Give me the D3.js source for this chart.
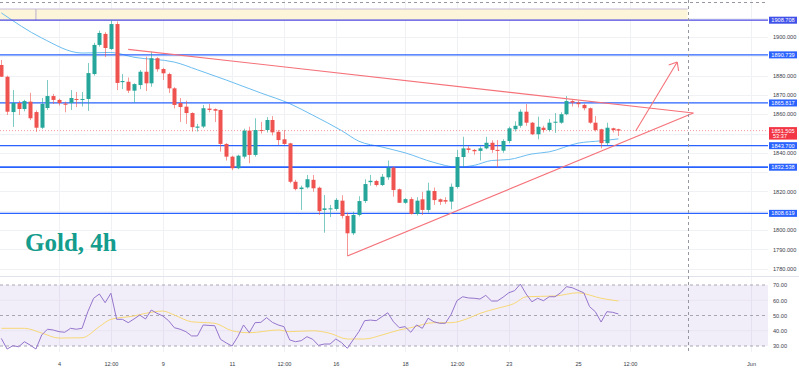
<!DOCTYPE html>
<html lang="en">
  <head>
    <meta charset="UTF-8" />
    <title>Gold, 4h</title>
    <style>
      html, body { margin: 0; padding: 0; background: #fff; }
      svg { display: block; font-family: "Liberation Sans", Arial, sans-serif; }
    </style>
  </head>
  <body>
    <svg width="799" height="369"></svg>

    <script src="https://d3js.org/d3.v7.min.js"></script>
    <script>
      // 4h candles, index 0 = May 4 00:00, 6 candles per trading day
      const firstIndex = -10;
      const opens = [
        1885.5, 1879.4, 1861.1, 1865.8, 1862.7, 1866.5, 1861.1, 1853.0, 1863.2, 1869.4,
        1867.4, 1865.5, 1865.8, 1867.9, 1867.4, 1867.9, 1880.8, 1895.9, 1901.6, 1893.8,
        1906.7, 1876.6, 1876.8, 1872.2, 1875.1, 1882.0, 1876.0, 1889.0, 1883.4, 1880.8,
        1873.4, 1865.8, 1863.9, 1860.6, 1853.0, 1853.6, 1862.9, 1862.6, 1862.2, 1844.6,
        1838.0, 1832.0, 1838.0, 1851.5, 1838.9, 1851.8, 1851.8, 1857.0, 1850.9, 1847.0,
        1844.9, 1825.0, 1821.2, 1822.1, 1826.0, 1821.9, 1810.4, 1810.7, 1810.9, 1815.2,
        1807.3, 1798.3, 1807.8, 1815.0, 1824.8, 1825.4, 1823.3, 1827.3, 1832.3, 1821.1,
        1814.1, 1816.0, 1808.3, 1815.9, 1810.4, 1820.2, 1815.9, 1815.5, 1814.7, 1822.3,
        1837.8, 1842.3, 1841.5, 1841.0, 1842.3, 1845.2, 1841.5, 1841.1, 1846.1, 1852.2,
        1854.0, 1861.3, 1855.6, 1849.6, 1853.0, 1851.8, 1855.6, 1855.6, 1860.0, 1866.8,
        1866.0, 1864.8, 1863.1, 1855.6, 1852.2, 1845.0, 1852.7, 1852.2
      ];
      const highs = [
        1888.1, 1880.0, 1872.5, 1867.0, 1867.5, 1871.1, 1862.0, 1868.4, 1877.7, 1870.5,
        1868.0, 1866.5, 1872.5, 1871.5, 1871.5, 1886.5, 1897.0, 1903.3, 1902.5, 1908.7,
        1908.0, 1880.8, 1879.0, 1876.0, 1882.9, 1889.8, 1892.4, 1889.5, 1884.0, 1881.5,
        1874.0, 1868.4, 1867.0, 1861.0, 1855.0, 1864.8, 1865.3, 1863.0, 1862.5, 1845.0,
        1838.5, 1839.0, 1852.5, 1853.5, 1857.9, 1856.0, 1858.5, 1859.0, 1851.8, 1851.8,
        1845.2, 1826.0, 1823.0, 1828.5, 1828.5, 1822.5, 1818.1, 1813.0, 1816.5, 1818.0,
        1809.0, 1809.5, 1817.5, 1826.3, 1828.5, 1826.0, 1829.0, 1836.0, 1833.0, 1821.5,
        1816.5, 1817.0, 1817.0, 1819.8, 1824.5, 1822.0, 1816.3, 1817.0, 1824.1, 1841.5,
        1848.3, 1843.5, 1842.0, 1843.3, 1848.3, 1846.5, 1846.6, 1847.0, 1853.5, 1856.3,
        1862.5, 1865.3, 1856.0, 1858.7, 1854.0, 1857.5, 1860.6, 1861.0, 1869.4, 1867.4,
        1867.0, 1865.5, 1863.5, 1859.0, 1852.5, 1855.6, 1853.0, 1852.5
      ];
      const lows = [
        1879.3, 1859.6, 1853.4, 1859.6, 1861.5, 1856.9, 1850.8, 1852.3, 1862.2, 1865.3,
        1864.5, 1861.0, 1862.2, 1863.7, 1864.0, 1861.7, 1880.0, 1895.0, 1889.6, 1893.3,
        1872.5, 1873.0, 1871.0, 1866.0, 1873.0, 1872.0, 1874.2, 1882.0, 1877.7, 1871.0,
        1863.0, 1856.0, 1855.0, 1851.0, 1851.0, 1852.8, 1861.0, 1856.0, 1840.6, 1836.0,
        1831.0, 1831.5, 1837.0, 1834.6, 1838.0, 1850.0, 1850.5, 1849.0, 1844.0, 1844.0,
        1824.2, 1820.5, 1810.4, 1821.5, 1819.8, 1807.8, 1798.6, 1806.7, 1810.0, 1806.0,
        1786.5, 1797.4, 1807.0, 1814.0, 1823.0, 1822.5, 1822.8, 1826.0, 1817.3, 1814.0,
        1813.6, 1808.0, 1807.5, 1807.8, 1809.0, 1813.0, 1813.0, 1813.5, 1810.7, 1821.5,
        1832.5, 1840.0, 1839.0, 1836.0, 1841.8, 1840.0, 1832.5, 1840.0, 1845.0, 1851.0,
        1853.0, 1854.0, 1849.2, 1847.0, 1850.5, 1851.0, 1850.3, 1855.0, 1859.5, 1864.0,
        1863.5, 1862.0, 1855.0, 1851.0, 1842.3, 1844.0, 1850.5, 1848.7
      ];
      const closes = [
        1879.4, 1861.3, 1865.8, 1862.7, 1866.8, 1857.9, 1853.0, 1865.3, 1869.4, 1867.4,
        1865.8, 1864.9, 1868.4, 1867.4, 1867.9, 1881.3, 1895.9, 1902.1, 1894.3, 1906.7,
        1876.2, 1877.2, 1872.2, 1875.6, 1882.0, 1876.0, 1889.0, 1883.3, 1881.2, 1873.4,
        1864.8, 1863.7, 1860.6, 1853.3, 1853.6, 1863.1, 1862.2, 1861.8, 1844.6, 1838.0,
        1832.0, 1838.5, 1851.5, 1838.9, 1851.8, 1851.3, 1857.0, 1850.6, 1846.6, 1844.6,
        1825.0, 1821.2, 1822.0, 1826.3, 1821.6, 1809.8, 1811.2, 1811.2, 1815.6, 1807.3,
        1798.3, 1807.8, 1815.0, 1823.8, 1825.5, 1823.3, 1827.6, 1832.3, 1820.7, 1814.1,
        1816.0, 1808.3, 1815.2, 1810.4, 1820.4, 1815.5, 1814.6, 1814.7, 1822.4, 1837.8,
        1842.3, 1841.5, 1840.8, 1842.3, 1845.2, 1841.5, 1841.0, 1846.1, 1852.7, 1854.0,
        1861.3, 1855.6, 1849.6, 1853.5, 1851.8, 1855.6, 1856.1, 1860.0, 1866.8, 1866.0,
        1865.2, 1863.1, 1855.6, 1851.8, 1845.0, 1853.0, 1851.8, 1851.5
      ];
      const rsi = [
        35, 28, 30.2, 29.5, 32.8, 30.6, 28, 37.2, 41, 40.5,
        39.4, 39, 41.6, 41, 41.6, 52.5, 61.3, 64.1, 58.4, 64.6,
        47.5, 47.5, 45.3, 47.7, 50.3, 47.7, 53.6, 51.4, 49.7, 46.6,
        42, 41, 39.4, 36.6, 36.6, 43.8, 43.5, 43.3, 34.4, 32,
        30, 36.1, 43.8, 38.7, 45.3, 45.5, 48.6, 45.5, 43.8, 42.7,
        34, 32.8, 33.5, 36.1, 34.4, 30.4, 31.3, 31.3, 34.6, 32.2,
        28.5, 34, 39.4, 46.6, 47, 46.6, 49.2, 51.8, 45.9, 42,
        42.7, 39, 43.8, 41.6, 48.2, 45.9, 44.9, 44.9, 50.8, 59.7,
        62.3, 61.5, 61.3, 60.8, 63.2, 59.5, 59.5, 62, 64.9, 66.3,
        70.6, 64.1, 59, 61.3, 59.7, 62.3, 62.3, 64.9, 68.9, 68.2,
        66.5, 64.9, 55.8, 52.5, 45.7, 52.5, 52.1, 51
      ];
      // [candle index, value]
      const rsiMa = [
        [-10, 41.6], [-6, 41.6], [-3, 38.5], [0, 35.2], [4, 35.4], [7, 42.7], [9, 47.5],
        [13, 49.7], [15, 51.4], [18, 52.9], [20, 50.3], [23, 45.9], [27, 44.9], [30, 40],
        [33, 38.7], [38, 40.5], [40, 39.4], [44, 40], [47, 38.3], [50, 34.6], [53, 34.6],
        [56, 37.2], [59, 40.5], [61, 42], [65, 45.3], [68, 45.3], [71, 48.2], [73, 51.4],
        [76, 54.7], [79, 58], [81, 62.3], [86, 62.8], [90, 64.9], [94, 61.3], [97, 59.5]
      ];
      const movingAvg = [
        [-10, 1912.5], [-3, 1899.5], [4, 1891.7], [9, 1892], [13, 1889.5], [20, 1887],
        [24, 1883], [29, 1877.7], [35, 1871], [40, 1865.5], [44, 1859.5], [49, 1851.5],
        [52, 1846], [56, 1843], [60, 1840], [65, 1835], [69, 1832.6], [72, 1833.5],
        [75, 1836], [78, 1836.5], [82, 1839.4], [85, 1840.5], [90, 1845], [94, 1846.2],
        [97, 1847.2]
      ];

      const levels = [1908.708, 1890.739, 1865.817, 1843.7, 1832.538, 1808.619];
      const lastPrice = 1851.505;
      const countdown = "53:37";
      const priceTicks = d3.range(1780, 1911, 10);
      const rsiTicks = [70, 60, 50, 40, 30];
      const timeTicks = [0, 9, 18, 30, 39, 48, 60, 69, 78, 90, 99, 120];
      const timeLabels = ["4", "12:00", "9", "11", "12:00", "16", "18", "12:00", "23", "25", "12:00", "Jun"];

      const trendDown = [[12, 1893.6], [110, 1860.6]];
      const trendUp = [[50, 1786.5], [110, 1860.6]];
      const arrowPath = [[100, 1851.3], [107.2, 1887]];
      const band = { from: -14, split: -4, to: 109, top: 1914.5, bottom: 1908.708 };
      const crossIndex = 109;
      const crossPrice = 1918.1;

      const svg = d3.select("svg");
      const paneRight = 768;
      const mainBottom = 276;
      const rsiBottom = 352;

      const x = d3.scaleLinear().domain([-10.23, 122.94]).range([0, paneRight]);
      const y = d3.scaleLinear().domain([1780, 1900]).range([268.6, 37]);
      const yr = d3.scaleLinear().domain([30, 70]).range([346, 285]);

      const candles = opens.map((o, k) => ({
        i: firstIndex + k, o, h: highs[k], l: lows[k], c: closes[k]
      }));

      const up = "#26a69a";
      const down = "#ef5350";

      svg.append("rect").attr("width", 799).attr("height", 369).attr("fill", "#fff");

      const defs = svg.append("defs");
      defs.append("clipPath").attr("id", "clipMain")
        .append("rect").attr("width", paneRight).attr("height", mainBottom);
      defs.append("clipPath").attr("id", "clipRsi")
        .append("rect").attr("y", mainBottom).attr("width", paneRight).attr("height", rsiBottom - mainBottom);

      // grid
      const grid = svg.append("g").attr("stroke", "#f0f1f5").attr("stroke-width", 1);
      grid.selectAll(".vg").data(timeTicks).join("line")
        .attr("x1", (d) => Math.round(x(d)) + 0.5).attr("x2", (d) => Math.round(x(d)) + 0.5)
        .attr("y1", 0).attr("y2", rsiBottom);
      grid.selectAll(".hg").data(priceTicks).join("line")
        .attr("x1", 0).attr("x2", paneRight)
        .attr("y1", (d) => Math.round(y(d)) + 0.5).attr("y2", (d) => Math.round(y(d)) + 0.5);

      const main = svg.append("g").attr("clip-path", "url(#clipMain)");

      // highlighted band at the top
      main.append("rect")
        .attr("x", x(band.from)).attr("width", x(band.to) - x(band.from))
        .attr("y", y(band.top)).attr("height", y(band.bottom) - y(band.top))
        .attr("fill", "#fdf5d9");
      main.append("line")
        .attr("x1", x(band.from)).attr("x2", x(band.to))
        .attr("y1", y(band.top)).attr("y2", y(band.top))
        .attr("stroke", "#c5bcd6").attr("stroke-width", 1);
      main.append("line")
        .attr("x1", x(band.split)).attr("x2", x(band.split))
        .attr("y1", y(band.top)).attr("y2", y(band.bottom))
        .attr("stroke", "#b9afcf").attr("stroke-width", 1);

      // moving average
      main.append("path")
        .datum(movingAvg)
        .attr("fill", "none")
        .attr("stroke", "#6cbdf0")
        .attr("stroke-width", 1)
        .attr("d", d3.line().x((d) => x(d[0])).y((d) => y(d[1])).curve(d3.curveMonotoneX));

      // current price line
      main.append("line")
        .attr("x1", 0).attr("x2", paneRight)
        .attr("y1", y(lastPrice)).attr("y2", y(lastPrice))
        .attr("stroke", "#f59aa0").attr("stroke-width", 1)
        .attr("stroke-dasharray", "1,2");

      // horizontal levels
      main.selectAll(".lvl").data(levels).join("line")
        .attr("x1", 0).attr("x2", paneRight)
        .attr("y1", (d) => y(d)).attr("y2", (d) => y(d))
        .attr("stroke", (d, k) => (k === 0 ? "#4b49e2" : "#2962ff"))
        .attr("stroke-width", (d) => (d === 1832.538 ? 1.8 : 1.3));

      // candles
      const cg = main.append("g");
      cg.selectAll(".wick").data(candles).join("line")
        .attr("x1", (d) => Math.round(x(d.i)) + 0.5).attr("x2", (d) => Math.round(x(d.i)) + 0.5)
        .attr("y1", (d) => y(d.h)).attr("y2", (d) => y(d.l))
        .attr("stroke", (d) => (d.c >= d.o ? up : down))
        .attr("stroke-opacity", 0.6)
        .attr("stroke-width", 1);
      cg.selectAll(".body").data(candles).join("rect")
        .attr("x", (d) => Math.round(x(d.i)) - 1.5)
        .attr("width", 4)
        .attr("y", (d) => y(Math.max(d.o, d.c)))
        .attr("height", (d) => Math.max(1, Math.abs(y(d.o) - y(d.c))))
        .attr("fill", (d) => (d.c >= d.o ? up : down));

      // trend lines and arrow
      const seg = d3.line().x((d) => x(d[0])).y((d) => y(d[1]));
      [trendDown, trendUp, arrowPath].forEach((p) => {
        main.append("path").datum(p)
          .attr("fill", "none").attr("stroke", "#f5727a").attr("stroke-width", 1.1)
          .attr("d", seg);
      });
      const tip = [x(arrowPath[1][0]), y(arrowPath[1][1])];
      const tail = [x(arrowPath[0][0]), y(arrowPath[0][1])];
      const ang = Math.atan2(tail[1] - tip[1], tail[0] - tip[0]);
      [-0.7, 0.7].forEach((a) => {
        main.append("line")
          .attr("x1", tip[0]).attr("y1", tip[1])
          .attr("x2", tip[0] + 9 * Math.cos(ang + a))
          .attr("y2", tip[1] + 9 * Math.sin(ang + a))
          .attr("stroke", "#f5727a").attr("stroke-width", 1.1);
      });

      // title
      svg.append("text")
        .attr("x", 25).attr("y", 251)
        .attr("font-family", "'Liberation Serif', 'DejaVu Serif', serif")
        .attr("font-weight", "bold")
        .attr("font-size", 25)
        .attr("fill", "#149c8d")
        .text("Gold, 4h");

      // pane separator
      svg.append("line")
        .attr("x1", 0).attr("x2", 799)
        .attr("y1", mainBottom + 0.5).attr("y2", mainBottom + 0.5)
        .attr("stroke", "#e0e3eb");

      // RSI pane
      const rp = svg.append("g").attr("clip-path", "url(#clipRsi)");
      rp.append("rect")
        .attr("x", 0).attr("width", paneRight)
        .attr("y", yr(70)).attr("height", yr(30) - yr(70))
        .attr("fill", "#7e57c2").attr("fill-opacity", 0.1);
      rp.selectAll(".rg").data([60, 40]).join("line")
        .attr("x1", 0).attr("x2", paneRight)
        .attr("y1", (d) => yr(d)).attr("y2", (d) => yr(d))
        .attr("stroke", "#e8e3f2");
      rp.selectAll(".rd").data([70, 50, 30]).join("line")
        .attr("x1", 0).attr("x2", paneRight)
        .attr("y1", (d) => yr(d)).attr("y2", (d) => yr(d))
        .attr("stroke", "#a9a6b4").attr("stroke-dasharray", "3,3");
      rp.append("path").datum(rsiMa)
        .attr("fill", "none").attr("stroke", "#f7d877").attr("stroke-width", 1)
        .attr("d", d3.line().x((d) => x(d[0])).y((d) => yr(d[1])).curve(d3.curveMonotoneX));
      rp.append("path").datum(rsi)
        .attr("fill", "none").attr("stroke", "#9575cd").attr("stroke-width", 1)
        .attr("d", d3.line().x((d, k) => x(firstIndex + k)).y((d) => yr(d)));

      // crosshair
      svg.append("line")
        .attr("x1", Math.round(x(crossIndex)) + 0.5).attr("x2", Math.round(x(crossIndex)) + 0.5)
        .attr("y1", 0).attr("y2", rsiBottom)
        .attr("stroke", "#9598a1").attr("stroke-dasharray", "3,3");
      svg.append("line")
        .attr("x1", 0).attr("x2", paneRight)
        .attr("y1", Math.round(y(crossPrice)) + 0.5).attr("y2", Math.round(y(crossPrice)) + 0.5)
        .attr("stroke", "#9598a1").attr("stroke-dasharray", "3,3");

      // axes; price ticks hidden behind a level tag are skipped
      const axisFont = 5.6;
      const tagged = levels.concat([lastPrice]);
      const freeTicks = priceTicks.filter((p) => tagged.every((t) => Math.abs(y(p) - y(t)) > 6));
      const priceAxis = svg.append("g")
        .attr("transform", `translate(${paneRight},0)`)
        .call(d3.axisRight(y).tickValues(freeTicks).tickSize(0).tickPadding(5).tickFormat(d3.format(".3f")));
      const rsiAxis = svg.append("g")
        .attr("transform", `translate(${paneRight},0)`)
        .call(d3.axisRight(yr).tickValues(rsiTicks).tickSize(0).tickPadding(5).tickFormat(d3.format(".2f")));
      const timeAxis = svg.append("g")
        .attr("transform", `translate(0,${rsiBottom})`)
        .call(d3.axisBottom(x).tickValues(timeTicks).tickSize(0).tickPadding(10).tickFormat((d, k) => timeLabels[k]));
      [priceAxis, rsiAxis, timeAxis].forEach((g) => {
        g.select(".domain").remove();
        g.selectAll("text").attr("font-size", axisFont).attr("fill", "#3a3e4a")
          .attr("font-family", "'Liberation Sans', Arial, sans-serif");
      });

      // level labels
      const tags = svg.append("g");
      levels.forEach((lv, k) => {
        const cy = y(lv);
        tags.append("rect")
          .attr("x", 769).attr("y", cy - 3.5).attr("width", 28).attr("height", 7)
          .attr("fill", k === 0 ? "#3f51e8" : "#2962ff");
        tags.append("text")
          .attr("x", 783).attr("y", cy + 2)
          .attr("text-anchor", "middle").attr("font-size", axisFont).attr("fill", "#fff")
          .text(d3.format(".3f")(lv));
      });
      const ly = y(lastPrice);
      tags.append("rect")
        .attr("x", 769).attr("y", ly - 3.5).attr("width", 28).attr("height", 12.5)
        .attr("fill", "#f23645");
      tags.append("text")
        .attr("x", 783).attr("y", ly + 2)
        .attr("text-anchor", "middle").attr("font-size", axisFont).attr("fill", "#fff")
        .text(d3.format(".3f")(lastPrice));
      tags.append("text")
        .attr("x", 773).attr("y", ly + 7.6)
        .attr("font-size", axisFont).attr("fill", "#fff")
        .text(countdown);
    </script>
  </body>
</html>
